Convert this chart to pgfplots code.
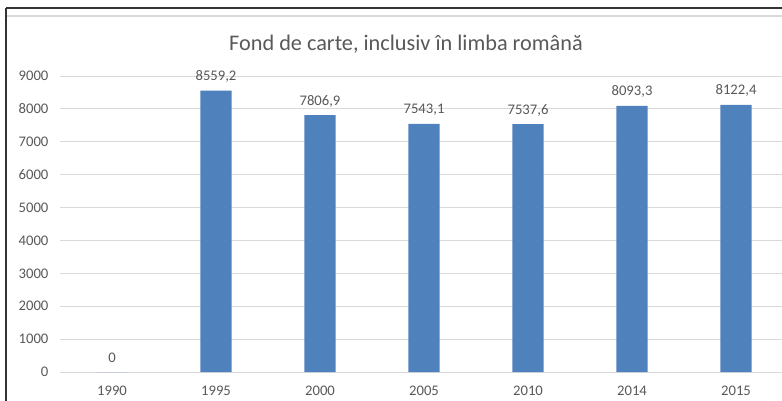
\documentclass[border=0pt]{standalone}
\usepackage{pgfplots}
\pgfplotsset{compat=1.18}
\usepackage{pgfplotstable}
\usepackage{fontspec}
\setmainfont{Carlito}
\definecolor{barblue}{HTML}{4F81BD}
\definecolor{txtgray}{HTML}{595959}
\definecolor{gridgray}{HTML}{D9D9D9}
\pgfplotstableread{
x y label
0 0 0
1 8559.2 8559,2
2 7806.9 7806,9
3 7543.1 7543,1
4 7537.6 7537,6
5 8093.3 8093,3
6 8122.4 8122,4
}\data
\begin{document}
\begin{tikzpicture}[x=0.75pt,y=0.75pt]
\useasboundingbox (0,0) rectangle (782,400);
\begin{scope}
\clip (0,0) rectangle (782,400);
\fill[white] (0,0) rectangle (782,400);
\draw[black!80, line width=1.1pt] (6,392) -- (790,392);
\draw[black!80, line width=1.1pt] (6,392) -- (6,-5);
\draw[gridgray, line width=0.8pt] (7,384) -- (790,384);
\begin{axis}[
  at={(84pt,21pt)}, anchor=origin,
  scale only axis, width=546pt, height=222pt,
  xmin=-0.5, xmax=6.5, ymin=0, ymax=9000,
  ybar, bar width=23.6pt,
  ytick={0,1000,...,9000},
  xtick={0,...,6},
  xticklabels={1990,1995,2000,2005,2010,2014,2015},
  ymajorgrids, grid style={gridgray, line width=0.75pt},
  axis line style={draw=none},
  major tick length=0pt,
  tick label style={font=\fontsize{11}{13}\selectfont, text=txtgray},
  /pgf/number format/assume math mode=true,
  /pgf/number format/1000 sep={},
  yticklabel style={inner sep=0pt, anchor=east, xshift=-8.5pt},
  xticklabel style={inner sep=0pt, anchor=north, yshift=-10.5pt},
  nodes near coords,
  point meta=explicit symbolic,
  nodes near coords style={font=\fontsize{11}{13}\selectfont, text=txtgray, inner sep=0pt, anchor=base, yshift=7.5pt},
  clip=false,
]
\addplot[fill=barblue, draw=none] table[x=x, y=y, meta=label] {\data};
\end{axis}
\node[font=\fontsize{16.7}{19}\selectfont, text=txtgray] at (406,356) {Fond de carte, inclusiv în limba română};
\end{scope}
\end{tikzpicture}
\end{document}
